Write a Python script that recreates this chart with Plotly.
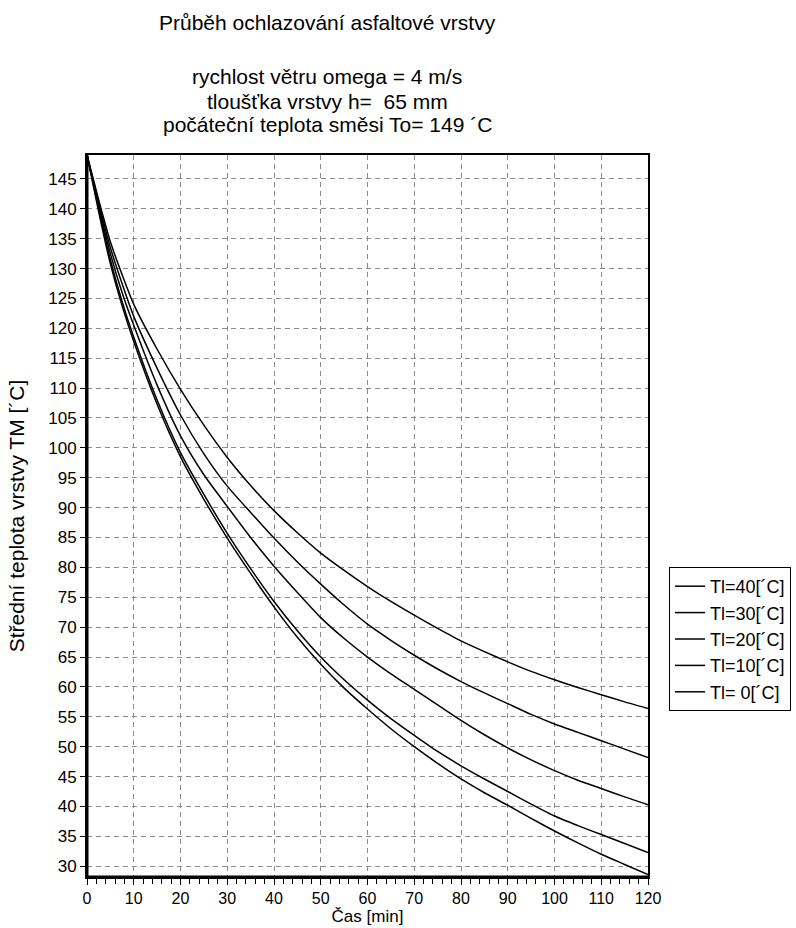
import plotly.graph_objects as go

# time [min]
t = [0, 2.5, 5, 7.5, 10, 15, 20, 25, 30, 35, 40, 45, 50, 55, 60, 65, 70, 75, 80, 85, 90, 95, 100, 105, 110, 115, 120]

# mean layer temperature TM [°C] for each air temperature Tl
tm_40 = [149, 141.5, 134.5, 129.0, 124.0, 116.5, 109.8, 103.8, 98.4, 93.7, 89.5, 85.8, 82.4, 79.5, 76.8, 74.3, 72.0, 69.8, 67.7, 65.9, 64.2, 62.6, 61.2, 59.9, 58.7, 57.5, 56.4]
tm_30 = [149, 141.0, 133.5, 127.5, 122.0, 113.3, 105.5, 99.0, 93.6, 89.2, 84.9, 80.9, 77.2, 73.7, 70.5, 67.8, 65.3, 63.0, 60.9, 59.0, 57.2, 55.4, 53.8, 52.4, 51.0, 49.6, 48.2]
tm_20 = [149, 140.5, 132.5, 126.0, 120.5, 110.5, 102.0, 95.5, 90.2, 85.0, 80.2, 75.8, 71.6, 68.1, 65.0, 62.2, 59.6, 57.0, 54.4, 52.0, 49.8, 47.8, 46.0, 44.4, 43.0, 41.6, 40.3]
tm_10 = [149, 140.0, 131.5, 124.5, 118.5, 108.0, 99.2, 92.2, 85.7, 79.8, 74.3, 69.4, 65.0, 61.2, 57.8, 54.7, 51.9, 49.2, 46.8, 44.6, 42.5, 40.4, 38.4, 36.8, 35.3, 33.8, 32.3]
tm_0 = [149, 139.5, 130.8, 123.8, 117.8, 107.3, 98.5, 91.4, 84.9, 79.0, 73.4, 68.3, 63.8, 59.8, 56.3, 53.0, 50.0, 47.2, 44.6, 42.3, 40.2, 38.0, 35.9, 33.9, 32.0, 30.3, 28.6]

series_names = ["Tl=40[´C]", "Tl=30[´C]", "Tl=20[´C]", "Tl=10[´C]", "Tl= 0[´C]"]
series_values = [tm_40, tm_30, tm_20, tm_10, tm_0]

title_lines = [
    "Průběh ochlazování asfaltové vrstvy",
    "rychlost větru omega = 4 m/s",
    "tloušťka vrstvy h=  65 mm",
    "počáteční teplota směsi To= 149 ´C",
]
x_title = "Čas [min]"
y_title = "Střední teplota vrstvy TM [´C]"

FONT = "Liberation Sans, Arial, sans-serif"

fig = go.Figure()
for name, vals in zip(series_names, series_values):
    fig.add_trace(go.Scatter(
        x=t, y=vals, mode="lines", name=name,
        line=dict(color="black", width=1.5, shape="spline", smoothing=0.6),
    ))

# plot area geometry (pixels)
L, R, T, B = 87, 148, 155, 51
W, H = 796, 928
pw = W - L - R
ph = H - T - B

def py(ypx):
    return (H - B - ypx) / ph

def px(xpx):
    return (xpx - L) / pw

annots = []
for txt, ypos in zip(title_lines, [22, 76, 101, 125]):
    annots.append(dict(
        text=txt, xref="paper", yref="paper", x=px(327), y=py(ypos),
        xanchor="center", yanchor="middle", showarrow=False,
        font=dict(family=FONT, size=21, color="black"),
    ))

fig.update_layout(
    width=W, height=H,
    margin=dict(l=L, r=R, t=T, b=B, autoexpand=False),
    paper_bgcolor="white", plot_bgcolor="white",
    font=dict(family=FONT, color="black"),
    annotations=annots,
    showlegend=True,
    legend=dict(
        x=px(791), y=py(567), xanchor="right", yanchor="top",
        bordercolor="black", borderwidth=1, bgcolor="white",
        font=dict(family=FONT, size=18, color="black"),
        itemwidth=30, tracegroupgap=0,
    ),
    xaxis=dict(
        range=[0, 120], tick0=0, dtick=10, automargin=False,
        showline=True, linecolor="black", linewidth=2, mirror=True,
        ticks="outside", ticklen=6, tickcolor="black", tickwidth=1,
        tickfont=dict(family=FONT, size=16, color="black"),
        showgrid=True, gridcolor="#8c8c8c", gridwidth=1, griddash="5px,4px",
        zeroline=False,
        minor=dict(dtick=2, ticks="outside", ticklen=5, tickcolor="black", showgrid=False),
        title=dict(text=x_title, font=dict(family=FONT, size=17, color="black"), standoff=2),
    ),
    yaxis=dict(
        range=[28.2, 149], tick0=0, dtick=5, automargin=False,
        showline=True, linecolor="black", linewidth=2, mirror=True,
        ticks="outside", ticklen=5, tickcolor="black", tickwidth=1,
        tickfont=dict(family=FONT, size=17, color="black"),
        showgrid=True, gridcolor="#8c8c8c", gridwidth=1, griddash="5px,4px",
        zeroline=False,
        title=dict(text=y_title, font=dict(family=FONT, size=21, color="black"), standoff=18),
    ),
    shapes=[
        dict(type="line", xref="paper", yref="paper", x0=0, x1=0, y0=0, y1=1,
             line=dict(color="black", width=3)),
        dict(type="line", xref="paper", yref="paper", x0=0, x1=1, y0=0, y1=0,
             line=dict(color="black", width=3)),
    ],
)

fig.write_html(
    "out.html",
    config={"displayModeBar": False},
    post_script="document.body.style.margin='0px';document.body.style.overflow='hidden';",
)
